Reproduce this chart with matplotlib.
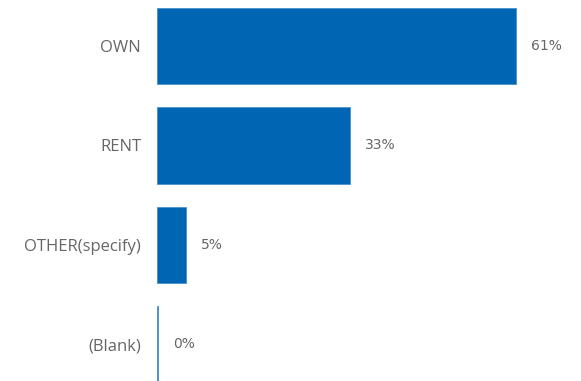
import matplotlib.pyplot as plt

categories = ['OWN', 'RENT', 'OTHER(specify)', '(Blank)']
values = [61.3, 33.0, 5.1, 0.3]
labels = ['61%', '33%', '5%', '0%']


def plot():
    """draw horizontal bars"""
    fig = plt.figure(figsize=(5.81, 3.81), dpi=100)
    ax = fig.add_axes([156.5 / 581, 0, 424.5 / 581, 1])
    pos = list(range(len(categories)))
    ax.barh(pos, values, height=0.765, color='#0065B3', edgecolor='#4a8fcc', lw=0.6)
    for p, v, lab in zip(pos, values, labels):
        ax.text(v + 2.5, p, lab, va='center', ha='left', fontsize=10,
                color='#666666', family='DejaVu Sans')
    ax.set_xlim(0, 72.3)
    ax.set_ylim(3.367, -0.462)
    ax.set_yticks(pos)
    ax.set_yticklabels(categories, fontsize=12, color='#666666', family='Open Sans')
    ax.tick_params(axis='y', length=0, pad=11)
    ax.set_xticks([])
    for s in ax.spines.values():
        s.set_visible(False)
    fig.savefig('out.png', dpi=100)


if __name__ == "__main__":
    plot()
